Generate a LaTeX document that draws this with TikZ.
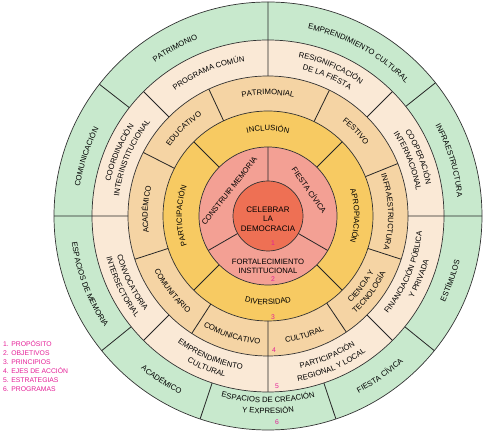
\documentclass[tikz,border=0pt]{standalone}
\usepackage{fontspec}
\setmainfont{Liberation Sans}
\usepackage{xcolor}
\usetikzlibrary{decorations.text}
\definecolor{cCore}{RGB}{238,112,84}
\definecolor{cObj}{RGB}{243,160,148}
\definecolor{cPrin}{RGB}{247,202,98}
\definecolor{cEje}{RGB}{245,212,164}
\definecolor{cEstr}{RGB}{250,233,214}
\definecolor{cProg}{RGB}{200,233,205}
\definecolor{cMag}{RGB}{228,30,150}
\tikzset{
	ringline/.style={draw=black!80,line width=0.7pt},
	divline/.style={draw=black!85,line width=0.8pt},
	midtxt/.style={font=\fontsize{7.7}{9}\selectfont,align=center,inner sep=0pt},
	coretxt/.style={font=\fontsize{8}{9.5}\selectfont,align=center,inner sep=0pt},
	numtxt/.style={font=\fontsize{6.8}{7}\selectfont,text=cMag,inner sep=0pt},
	legtxt/.style={font=\fontsize{6.8}{8}\selectfont,text=cMag,anchor=west,inner sep=0pt},
}
\newcommand{\ringfont}{\fontsize{7.7}{9}\selectfont}
% text on an arc, read clockwise (upper half): radius, mid angle, text
\newcommand{\uparc}[3]{\path[decorate,decoration={text along path,text align=center,
		text={|\ringfont|#3}}] ({#2+80}:{#1-2.8}) arc[start angle={#2+80},end angle={#2-80},radius={#1-2.8}];}
% text on an arc, read counter-clockwise (lower half)
\newcommand{\lowarc}[3]{\path[decorate,decoration={text along path,text align=center,
		text={|\ringfont|#3}}] ({#2-80}:{#1+2.8}) arc[start angle={#2-80},end angle={#2+80},radius={#1+2.8}];}

\begin{document}
\begin{tikzpicture}[x=1pt,y=1pt]
	\useasboundingbox (0,0) rectangle (490,435);

	\begin{scope}[shift={(268,219)}]
		% Rings (outer to inner)
		\fill[cProg] (0,0) circle (214);
		\fill[cEstr] (0,0) circle (176);
		\fill[cEje]  (0,0) circle (140);
		\fill[cPrin] (0,0) circle (105);
		\fill[cObj]  (0,0) circle (69);
		\fill[cCore] (0,0) circle (35);

		% Dividers, ring 2 (objectives)
		\draw[divline] (90:35) -- (90:69) (210:35) -- (210:69) (330:35) -- (330:69);
		% Dividers, ring 3 (principles)
		\draw[divline] (45:69) -- (45:105) (135:69) -- (135:105)
			(225:69) -- (225:105) (315:69) -- (315:105);
		% Dividers, ring 4 (axes)
		\draw[divline] (22:105) -- (22:140) (64:105) -- (64:140) (115:105) -- (115:140)
			(153:105) -- (153:140) (198:105) -- (198:140) (237:105) -- (237:140)
			(270:105) -- (270:140) (304:105) -- (304:140) (342:105) -- (342:140);
		% Dividers, ring 5 (strategies)
		\draw[divline] (0:140) -- (0:176) (45:140) -- (45:176) (90:140) -- (90:176)
			(135:140) -- (135:176) (180:140) -- (180:176) (225:140) -- (225:176)
			(270:140) -- (270:176) (315:140) -- (315:176);
		% Dividers, ring 6 (programs)
		\draw[divline] (0:176) -- (0:214) (38.5:176) -- (38.5:214) (90:176) -- (90:214)
			(142:176) -- (142:214) (180:176) -- (180:214) (219:176) -- (219:214)
			(251.5:176) -- (251.5:214) (288.5:176) -- (288.5:214) (321:176) -- (321:214);

		% Ring outlines
		\draw[ringline] (0,0) circle (35) (0,0) circle (69) (0,0) circle (105)
			(0,0) circle (140) (0,0) circle (176) (0,0) circle (214);

		% 1: purpose
		\node[coretxt] at (0,-3) (core) {CELEBRAR\\LA\\DEMOCRACIA};

		% 2: objectives
		\node[midtxt,rotate=52]  at (147:46) (memo)  {CONSTRUIR MEMORIA};
		\node[midtxt,rotate=-55] at (32:49)  (civic) {FIESTA CÍVICA};
		\node[midtxt] at (0,-50.5) (fort) {FORTALECIMIENTO\\INSTITUCIONAL};

		% 3: principles
		\uparc{88}{90}{INCLUSIÓN}
		\uparc{89}{0}{APROPIACIÓN}
		\lowarc{86}{270}{DIVERSIDAD}
		\uparc{89}{180}{PARTICIPACIÓN}

		% 4: axes of action
		\uparc{124}{90}{PATRIMONIAL}
		\uparc{123}{44}{FESTIVO}
		\uparc{123}{2}{INFRAESTRUCTURA}
		\lowarc{117}{-37}{CIENCIA Y}
		\lowarc{128}{-37}{TECNOLOGÍA}
		\lowarc{125}{-73}{CULTURAL}
		\lowarc{125}{253}{COMUNICATIVO}
		\lowarc{123}{218}{COMUNITARIO}
		\uparc{123}{177}{ACADÉMICO}
		\uparc{123}{134}{EDUCATIVO}

		% 5: strategies
		\uparc{159}{112.5}{PROGRAMA COMÚN}
		\uparc{164}{67}{RESIGNIFICACIÓN}
		\uparc{153}{67}{DE LA FIESTA}
		\uparc{164}{21.5}{COOPERACIÓN}
		\uparc{153}{21.5}{INTERNACIONAL}
		\lowarc{152}{-22.5}{FINANCIACIÓN PÚBLICA}
		\lowarc{164}{-22.5}{Y PRIVADA}
		\lowarc{153}{-67}{PARTICIPACIÓN}
		\lowarc{165}{-67}{REGIONAL Y LOCAL}
		\lowarc{153}{247.5}{EMPRENDIMIENTO}
		\lowarc{164}{248}{CULTURAL}
		\lowarc{153}{206}{CONVOCATORIA}
		\lowarc{164}{206}{INTERSECTORIAL}
		\uparc{164}{157}{COORDINACIÓN}
		\uparc{153}{157}{INTERINSTITUCIONAL}

		% 6: programs
		\uparc{193}{119}{PATRIMONIO}
		\uparc{194}{61}{EMPRENDIMIENTO CULTURAL}
		\uparc{193}{17}{INFRAESTRUCTURA}
		\lowarc{194}{-19.5}{ESTÍMULOS}
		\lowarc{196}{-55}{FIESTA CÍVICA}
		\lowarc{184}{270}{ESPACIOS DE CREACIÓN}
		\lowarc{195}{270}{Y EXPRESIÓN}
		\lowarc{196}{237}{ACADÉMICO}
		\lowarc{195}{201}{ESPACIOS DE MEMORIA}
		\uparc{193}{162}{COMUNICACIÓN}

		% Ring numbers
		\node[numtxt] at (5,-27)  (n1) {1};
		\node[numtxt] at (5,-63)  (n2) {2};
		\node[numtxt] at (5,-101) (n3) {3};
		\node[numtxt] at (6,-134) (n4) {4};
		\node[numtxt] at (9,-170) (n5) {5};
		\node[numtxt] at (9,-206) (n6) {6};
	\end{scope}

	% Legend
	\node[legtxt] at (3,91) (l1) {1. PROPÓSITO};
	\node[legtxt] at (3,82) (l2) {2. OBJETIVOS};
	\node[legtxt] at (3,73) (l3) {3. PRINCIPIOS};
	\node[legtxt] at (3,64) (l4) {4. EJES DE ACCIÓN};
	\node[legtxt] at (3,55) (l5) {5. ESTRATEGIAS};
	\node[legtxt] at (3,46) (l6) {6. PROGRAMAS};
\end{tikzpicture}
\end{document}
